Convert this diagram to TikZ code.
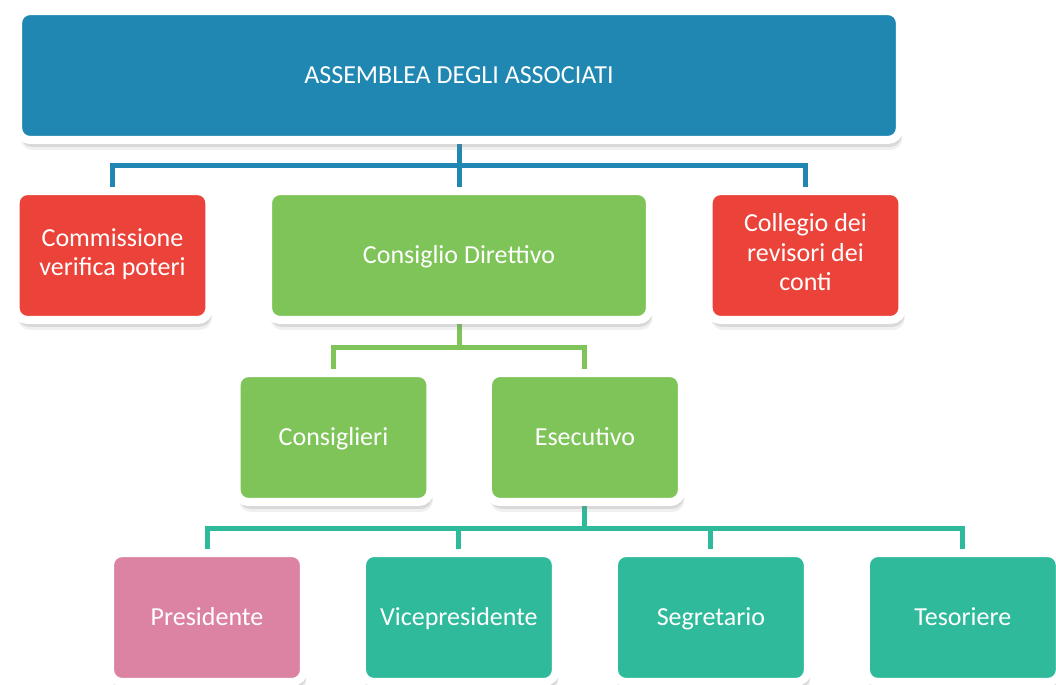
\documentclass[tikz,border=0pt]{standalone}
\usepackage{fontspec}
\setmainfont{Carlito}
\usetikzlibrary{positioning}
\usetikzlibrary{shadows}
\usetikzlibrary{backgrounds}

\definecolor{assembleablue}{RGB}{31,135,178}
\definecolor{controlred}{RGB}{235,67,58}
\definecolor{consigliogreen}{RGB}{126,196,88}
\definecolor{presidentepink}{RGB}{220,130,162}
\definecolor{esecutivoteal}{RGB}{47,187,155}

% struts that centre the capitals
\newcommand{\topstrut}{\rule{0pt}{13.5pt}}
\newcommand{\bottomstrut}{\rule[-4pt]{0pt}{4pt}}

\begin{document}
\begin{tikzpicture}
[
	x								= 0.02cm,
	y								= -0.02cm,
	%
	% white rim, rounded corners, soft shadow
	orgbox/.style					=
	{
		draw						= white,
		line width					= 0.16cm,
		rounded corners				= 0.24cm,
		minimum width				= 3.88cm,
		minimum height				= 2.58cm,
		inner sep					= 0pt,
		outer sep					= 0pt,
		text						= white,
		align						= center,
		font						= \fontsize{14.8}{16.8}\selectfont,
		execute at begin node		= \topstrut,
		execute at end node			= \bottomstrut,
		drop shadow					= {shadow xshift = 0.05cm, shadow yshift = -0.2cm, opacity = 0.12},
		drop shadow					= {shadow xshift = 0.04cm, shadow yshift = -0.14cm, opacity = 0.2},
	},
	%
	link/.style						= {line width = 0.1cm},
]
	\useasboundingbox (0,0) rectangle (1056,684);

	% top level
	\node (assemblea) [orgbox, fill = assembleablue, minimum width = 17.64cm] at (459,75.5) {ASSEMBLEA DEGLI ASSOCIATI};

	\node (commissione) [orgbox, fill = controlred] at (112.5,255.5) {Commissione\\verifica poteri};
	\node (direttivo) [orgbox, fill = consigliogreen, minimum width = 7.64cm] at (459,255.5) {Consiglio Direttivo};
	\node (revisori) [orgbox, fill = controlred] at (805.5,255.5) {Collegio dei\\revisori dei\\conti};

	\node (consiglieri) [orgbox, fill = consigliogreen] at (333.5,437.5) {Consiglieri};
	\node (esecutivo) [orgbox, fill = consigliogreen, right = 1.15cm of consiglieri] {Esecutivo};

	\node (presidente) [orgbox, fill = presidentepink] at (207,617.5) {Presidente};
	\node (vicepresidente) [orgbox, fill = esecutivoteal, right = 1.16cm of presidente] {Vicepresidente};
	\node (segretario) [orgbox, fill = esecutivoteal, right = 1.16cm of vicepresidente] {Segretario};
	\node (tesoriere) [orgbox, fill = esecutivoteal, right = 1.16cm of segretario] {Tesoriere};

	% bus levels
	\coordinate (busassemblea) at (0,165.5);
	\coordinate (busdirettivo) at (0,347);
	\coordinate (busesecutivo) at (0,528);

	\begin{pgfonlayer}{background}
		\draw [link, assembleablue] (assemblea.south) -- (assemblea.south |- busassemblea) -| (commissione.north);
		\draw [link, assembleablue] (assemblea.south |- busassemblea) -| (revisori.north);
		\draw [link, assembleablue] (assemblea.south) -- (direttivo.north);

		\draw [link, consigliogreen] (direttivo.south) -- (direttivo.south |- busdirettivo) -| (consiglieri.north);
		\draw [link, consigliogreen] (direttivo.south |- busdirettivo) -| (esecutivo.north);

		\draw [link, esecutivoteal] (esecutivo.south) -- (esecutivo.south |- busesecutivo) -| (presidente.north);
		\draw [link, esecutivoteal] (esecutivo.south |- busesecutivo) -| (tesoriere.north);
		\draw [link, esecutivoteal] (vicepresidente.north) -- (vicepresidente.north |- busesecutivo);
		\draw [link, esecutivoteal] (segretario.north) -- (segretario.north |- busesecutivo);
	\end{pgfonlayer}

\end{tikzpicture}
\end{document}
